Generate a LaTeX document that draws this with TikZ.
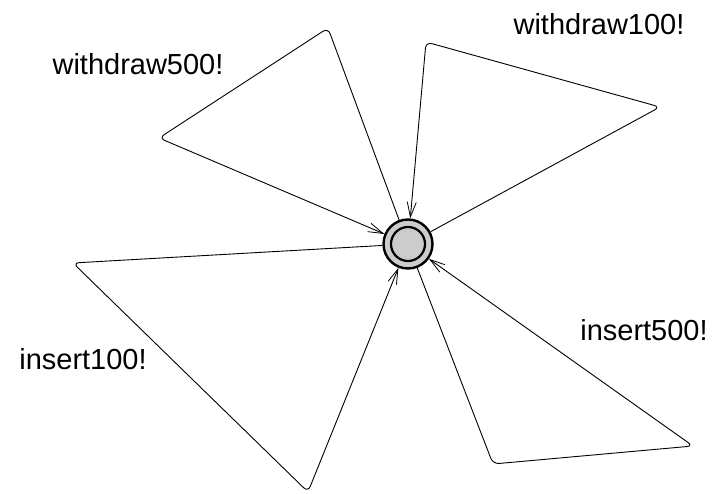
\documentclass[tikz,border=0pt]{standalone}
\usepackage{fontspec}
\setmainfont{Liberation Sans}
\usetikzlibrary{arrows.meta}
\definecolor{locfill}{RGB}{204,204,204}
\begin{document}
\begin{tikzpicture}[x=1pt,y=-1pt,
  loc/.style={circle,draw=black,fill=locfill,line width=2.4pt,minimum size=49pt,inner sep=0pt},
  edge/.style={line width=0.9pt,rounded corners=6pt,-{Straight Barb[length=15pt,width=9pt,line width=0.8pt]}},
  lbl/.style={font=\fontsize{29}{32}\selectfont,inner sep=0pt}]
\useasboundingbox (0,0) rectangle (714,494);
\node[loc] (n) at (408,244) {};
\draw[line width=2.2pt] (n.center) circle[radius=17];
\coordinate (a1) at (328,28);
\coordinate (a2) at (159,138);
\coordinate (b1) at (660,107);
\coordinate (b2) at (426,42);
\coordinate (c1) at (493,464);
\coordinate (c2) at (693,446);
\coordinate (d1) at (73,263);
\coordinate (d2) at (308,492);
\draw[edge] (n) -- (a1) -- (a2) -- (n);
\draw[edge] (n) -- (b1) -- (b2) -- (n);
\draw[edge] (n) -- (c1) -- (c2) -- (n);
\draw[edge] (n) -- (d1) -- (d2) -- (n);
\node[lbl] (l1) at (138,64) {withdraw500!};
\node[lbl] (l2) at (599,24) {withdraw100!};
\node[lbl] (l3) at (83,359) {insert100!};
\node[lbl] (l4) at (644,330) {insert500!};
\end{tikzpicture}
\end{document}
